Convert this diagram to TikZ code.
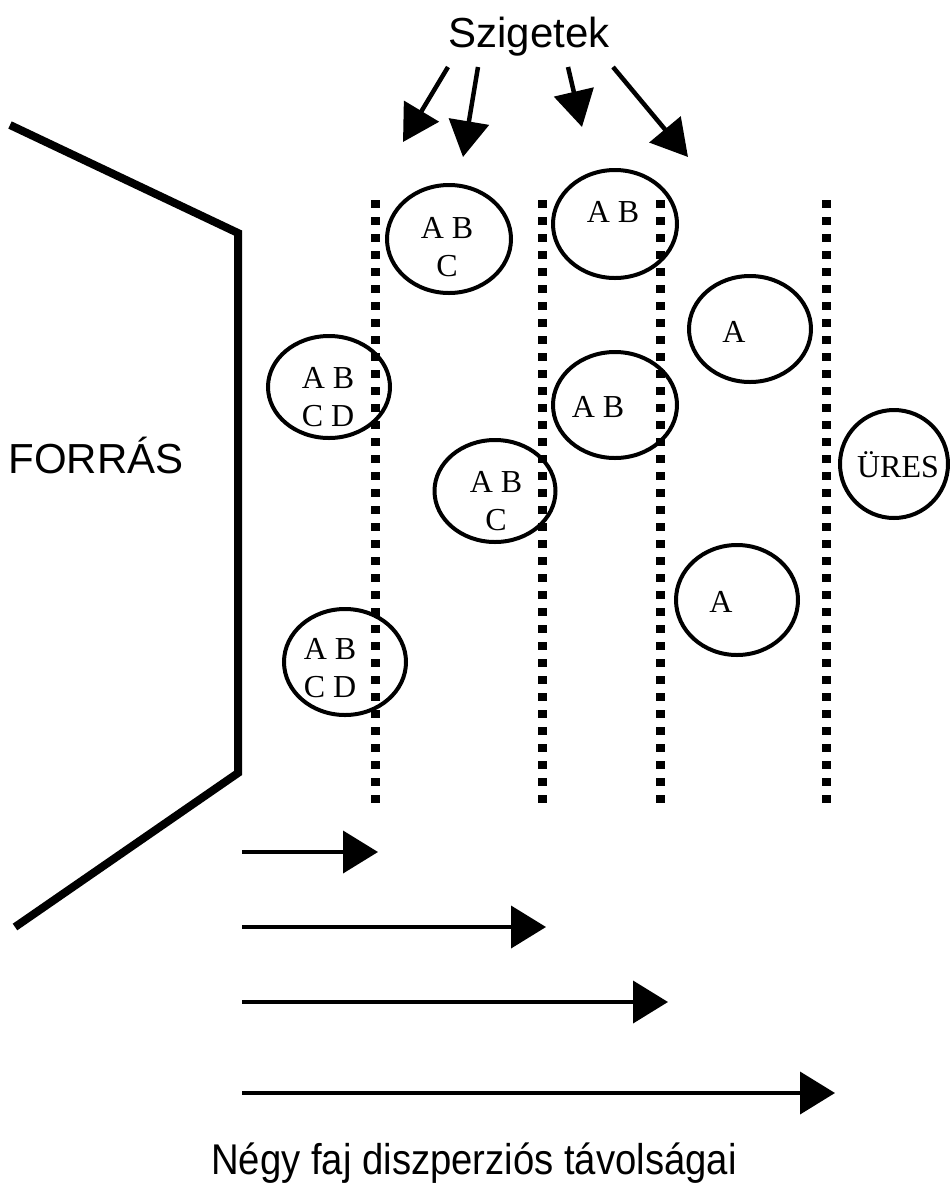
\documentclass[tikz,border=0pt]{standalone}
\usepackage{fontspec}
\setmainfont{Liberation Serif}
\newfontfamily\labfont{Liberation Sans}
\usetikzlibrary{shapes.geometric,arrows.meta}
\begin{document}
\begin{tikzpicture}[x=1pt,y=-1pt,
  island/.style={ellipse,draw,line width=4pt,inner sep=0pt},
  sp/.style={font=\fontsize{32}{38}\selectfont,inner sep=0pt,align=center},
  lab/.style={font=\labfont\fontsize{42}{50}\selectfont,inner sep=0pt},
  dotline/.style={line width=9pt,dash pattern=on 8pt off 9pt},
  topar/.style={line width=4.5pt,-{Triangle[length=36pt,width=40pt]}},
  botar/.style={line width=4pt,-{Triangle[length=35pt,width=42pt]}},
  source/.style={line width=8pt,line join=miter}]
\useasboundingbox (0,0) rectangle (950,1203);
% source border
\draw[source] (10,125) -- (238,233) -- (238,773) -- (15,927);
\node[lab] (forras) at (96,455) {FORRÁS};
% dotted lines
\draw[dotline] (375,200) -- (375,808);
\draw[dotline] (542,200) -- (542,808);
\draw[dotline] (660,200) -- (660,808);
\draw[dotline] (826,200) -- (826,808);
% islands
\node[island,minimum width=124pt,minimum height=108pt] (i1) at (449,239) {};
\node[sp] (t1) at (447,247) {A B\\C};
\node[island,minimum width=122pt,minimum height=102pt] (i2) at (329,387) {};
\node[sp] (t2) at (328,397) {A B\\C D};
\node[island,minimum width=124pt,minimum height=108pt] (i3) at (615,224) {};
\node[sp] (t3) at (613,212) {A B};
\node[island,minimum width=122pt,minimum height=106pt] (i4) at (750,329) {};
\node[sp] (t4) at (734,332) {A};
\node[island,minimum width=124pt,minimum height=106pt] (i5) at (615,405) {};
\node[sp] (t5) at (598,407) {A B};
\node[island,minimum width=108pt,minimum height=108pt] (i6) at (894,464) {};
\node[sp] (t6) at (898,465) {ÜRES};
\node[island,minimum width=121pt,minimum height=102pt] (i7) at (495,491) {};
\node[sp] (t7) at (496,501) {A B\\C};
\node[island,minimum width=122pt,minimum height=110pt] (i8) at (737,600) {};
\node[sp] (t8) at (721,602) {A};
\node[island,minimum width=122pt,minimum height=106pt] (i9) at (345,662) {};
\node[sp] (t9) at (330,668) {A B\\C D};
% top label and arrows
\node[lab,anchor=base] (szig) at (529,47) {Szigetek};
\coordinate (a1s) at (448,67); \coordinate (a1e) at (403,142);
\coordinate (a2s) at (478,67); \coordinate (a2e) at (463,157);
\coordinate (a3s) at (568,67); \coordinate (a3e) at (582,127);
\coordinate (a4s) at (613,67); \coordinate (a4e) at (688,157);
\draw[topar] (a1s) -- (a1e);
\draw[topar] (a2s) -- (a2e);
\draw[topar] (a3s) -- (a3e);
\draw[topar] (a4s) -- (a4e);
% dispersal arrows
\coordinate (b1s) at (242,852); \coordinate (b1e) at (378,852);
\coordinate (b2s) at (242,927); \coordinate (b2e) at (546,927);
\coordinate (b3s) at (242,1002); \coordinate (b3e) at (668,1002);
\coordinate (b4s) at (242,1093); \coordinate (b4e) at (835,1093);
\draw[botar] (b1s) -- (b1e);
\draw[botar] (b2s) -- (b2e);
\draw[botar] (b3s) -- (b3e);
\draw[botar] (b4s) -- (b4e);
\node[lab,anchor=base,font=\labfont\fontsize{43}{50}\selectfont,xscale=0.89] (cap) at (474,1174) {Négy faj diszperziós távolságai};
\end{tikzpicture}
\end{document}
